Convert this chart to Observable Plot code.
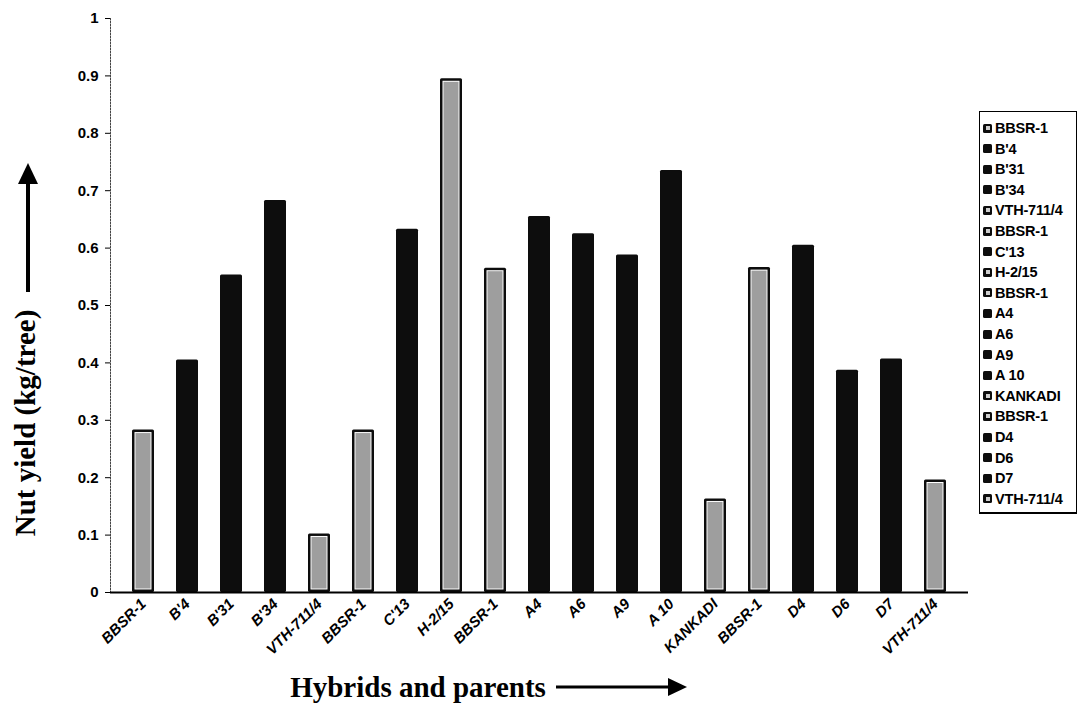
<!DOCTYPE html>
<html><head><meta charset="utf-8">
<script src="https://cdn.jsdelivr.net/npm/d3@7"></script>
<script src="https://cdn.jsdelivr.net/npm/@observablehq/plot@0.6"></script>
<style>
body{margin:0;background:#fff;}
#wrap{position:relative;width:1079px;height:705px;overflow:hidden;font-family:"Liberation Sans",Arial,sans-serif;}
#wrap svg{position:absolute;left:0;top:0;}
#legend{position:absolute;left:979px;top:111px;width:96px;height:400px;border:1.5px solid #000;border-bottom-width:2.5px;background:#fff;}
.item{position:absolute;left:3px;height:20px;display:flex;align-items:center;font-weight:bold;font-size:14.5px;letter-spacing:-0.2px;color:#000;white-space:nowrap;}
.sw{display:inline-block;width:9px;height:9px;background:#0d0d0d;border-radius:1.5px;margin-right:3px;position:relative;}
.sw.parent::after{content:"";position:absolute;left:2.5px;top:2.5px;width:4px;height:4px;background:#cfcfcf;}
</style></head><body><div id="wrap"></div>
<script>
// Data
const categories = ["BBSR-1","B'4","B'31","B'34","VTH-711/4","BBSR-1","C'13","H-2/15","BBSR-1","A4","A6","A9","A 10","KANKADI","BBSR-1","D4","D6","D7","VTH-711/4"];
const yields = [0.283,0.405,0.553,0.683,0.102,0.283,0.633,0.895,0.565,0.655,0.625,0.588,0.735,0.163,0.566,0.605,0.387,0.407,0.196];
const groups = ["parent","hybrid","hybrid","hybrid","parent","parent","hybrid","parent","parent","hybrid","hybrid","hybrid","hybrid","parent","parent","hybrid","hybrid","hybrid","parent"];
const yTicks = [0,0.1,0.2,0.3,0.4,0.5,0.6,0.7,0.8,0.9,1];
const legendLabels = ["BBSR-1","B'4","B'31","B'34","VTH-711/4","BBSR-1","C'13","H-2/15","BBSR-1","A4","A6","A9","A 10","KANKADI","BBSR-1","D4","D6","D7","VTH-711/4"];
const yTitle = "Nut yield (kg/tree)";
const xTitle = "Hybrids and parents";

const data = categories.map((c, i) => ({i, label: c, value: yields[i], group: groups[i]}));
const parents = data.filter(d => d.group === "parent");

const chart = Plot.plot({
  width: 1079, height: 705,
  marginLeft: 110, marginRight: 111, marginTop: 18, marginBottom: 113,
  x: {type: "band", domain: d3.range(categories.length), padding: 0.5, align: 0.5},
  y: {domain: [0, 1]},
  style: {background: "transparent", fontFamily: "'Liberation Sans', Arial, sans-serif", color: "#000"},
  marks: [
    Plot.frame({anchor: "left", stroke: "#444", strokeDasharray: "1.5,1.5"}),
    Plot.barY(data, {x: "i", y: "value", fill: "#0d0d0d", rx: 1.5}),
    Plot.barY(parents, {x: "i", y: "value", fill: "#ffffff", inset: 2.5}),
    Plot.barY(parents, {x: "i", y: "value", fill: "#9e9e9e", inset: 3.5}),
    Plot.ruleY([0], {stroke: "#000", strokeWidth: 2}),
    Plot.axisY({ticks: yTicks, tickSize: 5, tickPadding: 7, tickFormat: d => String(d), fontSize: 15, fontWeight: "bold", label: null}),
    Plot.axisX({tickSize: 0, tickPadding: 9, tickRotate: -45, tickFormat: i => categories[i], fontSize: 15, fontWeight: "bold", fontStyle: "italic", label: null})
  ]
});
const wrap = document.getElementById("wrap");
wrap.appendChild(chart);

// Titles and arrows (decoration)
const ns = "http://www.w3.org/2000/svg";
const deco = document.createElementNS(ns, "svg");
deco.setAttribute("width", 1079); deco.setAttribute("height", 705);
deco.innerHTML = `
  <text transform="translate(25,423) rotate(-90)" text-anchor="middle" dy="0.35em"
    font-family="'Liberation Serif','Times New Roman',serif" font-weight="bold" font-size="29">${yTitle}</text>
  <line x1="28" y1="292" x2="28" y2="178" stroke="#000" stroke-width="4"/>
  <polygon points="28,163 18,184 38,184" fill="#000"/>
  <text x="418" y="687" text-anchor="middle" dy="0.35em"
    font-family="'Liberation Serif','Times New Roman',serif" font-weight="bold" font-size="29">${xTitle}</text>
  <line x1="556" y1="687" x2="672" y2="687" stroke="#000" stroke-width="3"/>
  <polygon points="687,687 668,678 668,696" fill="#000"/>`;
wrap.appendChild(deco);

// Legend
const legend = document.createElement("div");
legend.id = "legend";
legendLabels.forEach((lab, i) => {
  const it = document.createElement("div");
  it.className = "item";
  it.style.top = (6 + i * 20.6) + "px";
  const sw = document.createElement("span");
  sw.className = "sw " + groups[i];
  it.appendChild(sw);
  it.appendChild(document.createTextNode(lab));
  legend.appendChild(it);
});
wrap.appendChild(legend);
</script>
</body></html>
